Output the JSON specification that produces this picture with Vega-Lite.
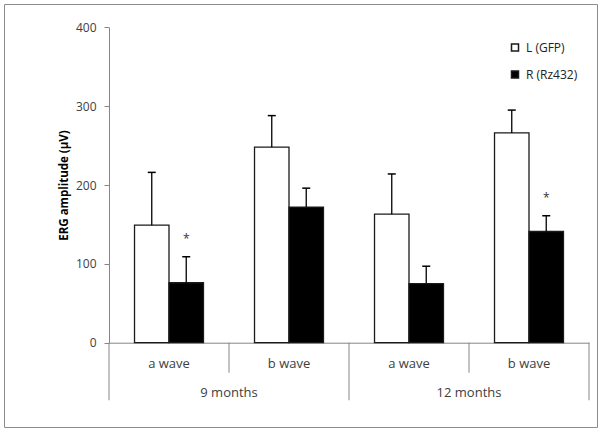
{
  "$schema": "https://vega.github.io/schema/vega-lite/v6.json",
  "width": 593,
  "height": 423,
  "autosize": {"type": "none"},
  "padding": {"left": 4, "top": 4, "right": 5, "bottom": 5},
  "background": "white",
  "config": {
    "view": {"stroke": "#8c8c8c"},
    "font": "Open Sans",
    "axis": {"grid": false, "domainColor": "#868686", "tickColor": "#868686", "labelFont": "Open Sans", "labelFontSize": 12, "labelColor": "#404040"}
  },
  "data": {
    "values": [
      {"month": "9 months", "wave": "a wave", "cat": "9 months a wave", "group": "L (GFP)", "value": 149, "upper": 216, "sig": ""},
      {"month": "9 months", "wave": "a wave", "cat": "9 months a wave", "group": "R (Rz432)", "value": 76, "upper": 109, "sig": "*"},
      {"month": "9 months", "wave": "b wave", "cat": "9 months b wave", "group": "L (GFP)", "value": 248, "upper": 288, "sig": ""},
      {"month": "9 months", "wave": "b wave", "cat": "9 months b wave", "group": "R (Rz432)", "value": 172, "upper": 196, "sig": ""},
      {"month": "12 months", "wave": "a wave", "cat": "12 months a wave", "group": "L (GFP)", "value": 163, "upper": 214, "sig": ""},
      {"month": "12 months", "wave": "a wave", "cat": "12 months a wave", "group": "R (Rz432)", "value": 75, "upper": 97, "sig": ""},
      {"month": "12 months", "wave": "b wave", "cat": "12 months b wave", "group": "L (GFP)", "value": 266, "upper": 295, "sig": ""},
      {"month": "12 months", "wave": "b wave", "cat": "12 months b wave", "group": "R (Rz432)", "value": 141, "upper": 161, "sig": "*"}
    ]
  },
  "encoding": {
    "x": {
      "field": "cat", "type": "nominal",
      "sort": ["9 months a wave", "9 months b wave", "12 months a wave", "12 months b wave"],
      "scale": {"range": [105, 585], "paddingInner": 0, "paddingOuter": 0},
      "axis": {"orient": "bottom", "offset": -84.3, "ticks": false, "labelPadding": 15, "labelFontSize": 13, "labelExpr": "slice(datum.value, -6)", "labelAngle": 0, "title": null}
    }
  },
  "layer": [
    {
      "mark": {"type": "bar", "stroke": "#1a1a1a", "strokeWidth": 1.3},
      "encoding": {
        "xOffset": {"field": "group", "type": "nominal", "scale": {"paddingInner": 0, "paddingOuter": 0.74}},
        "y": {
          "field": "value", "type": "quantitative",
          "scale": {"domain": [0, 400], "range": [338.7, 23.3], "nice": false},
          "axis": {"orient": "left", "offset": -105, "values": [0, 100, 200, 300, 400], "tickSize": 5, "labelPadding": 8, "title": "ERG  amplitude (µV)", "titleFontSize": 11.5, "titleFontWeight": "bold", "titleColor": "#000000", "titlePadding": 6}
        },
        "fill": {
          "field": "group", "type": "nominal",
          "scale": {"range": ["#ffffff", "#000000"]},
          "legend": {"orient": "none", "legendX": 505, "legendY": 37.5, "title": null, "symbolType": "square", "symbolSize": 49, "labelOffset": 5, "labelFontSize": 12, "labelColor": "#222222", "rowPadding": 13}
        }
      }
    },
    {
      "mark": {"type": "rule", "color": "#000000", "strokeWidth": 1.3},
      "encoding": {
        "xOffset": {"field": "group", "type": "nominal"},
        "y": {"field": "value", "type": "quantitative"},
        "y2": {"field": "upper"}
      }
    },
    {
      "mark": {"type": "point", "shape": "stroke", "size": 64, "strokeWidth": 1.5, "color": "#000000", "filled": false, "opacity": 1},
      "encoding": {
        "xOffset": {"field": "group", "type": "nominal"},
        "y": {"field": "upper", "type": "quantitative"}
      }
    },
    {
      "transform": [{"filter": "datum.sig == '*'"}],
      "mark": {"type": "text", "baseline": "middle", "dy": -18, "fontSize": 12, "color": "#333333"},
      "encoding": {
        "xOffset": {"field": "group", "type": "nominal"},
        "y": {"field": "upper", "type": "quantitative"},
        "text": {"field": "sig"}
      }
    },
    {
      "transform": [{"filter": "datum.group == 'L (GFP)' && datum.wave == 'b wave'"}],
      "mark": {"type": "rule", "color": "#868686", "strokeWidth": 1},
      "encoding": {
        "x": {"field": "cat", "type": "nominal", "bandPosition": 0},
        "y": {"datum": 0, "type": "quantitative"},
        "y2": {"datum": -38}
      }
    },
    {
      "transform": [{"filter": "datum.group == 'L (GFP)' && datum.wave == 'a wave'"}],
      "mark": {"type": "rule", "color": "#868686", "strokeWidth": 1},
      "encoding": {
        "x": {"field": "cat", "type": "nominal", "bandPosition": 0},
        "y": {"datum": 0, "type": "quantitative"},
        "y2": {"datum": -73}
      }
    },
    {
      "transform": [{"filter": "datum.group == 'L (GFP)' && datum.cat == '12 months b wave'"}],
      "mark": {"type": "rule", "color": "#868686", "strokeWidth": 1},
      "encoding": {
        "x": {"field": "cat", "type": "nominal", "bandPosition": 1},
        "y": {"datum": 0, "type": "quantitative"},
        "y2": {"datum": -73}
      }
    },
    {
      "transform": [{"filter": "datum.group == 'L (GFP)' && datum.wave == 'a wave'"}],
      "mark": {"type": "text", "baseline": "middle", "dy": 50, "fontSize": 13, "color": "#404040"},
      "encoding": {
        "x": {"field": "cat", "type": "nominal", "bandPosition": 1},
        "y": {"datum": 0, "type": "quantitative"},
        "text": {"field": "month"}
      }
    }
  ]
}
